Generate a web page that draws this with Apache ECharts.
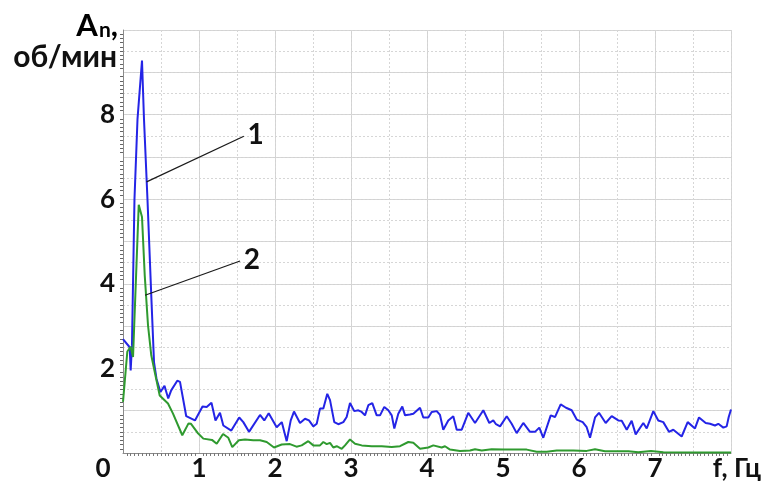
<!DOCTYPE html>
<html>
<head>
<meta charset="utf-8">
<script src="https://cdn.jsdelivr.net/npm/echarts@6/dist/echarts.min.js"></script>
<style>html,body{margin:0;padding:0;background:#fff}#c{width:769px;height:488px}</style>
</head>
<body>
<div id="c"></div>
<script>
// Curve 1 (blue): frequency, Hz and amplitude, об/мин
const freq1 = [0.000,0.088,0.101,0.118,0.151,0.191,0.250,0.276,0.322,0.372,0.408,0.441,0.493,0.546,0.595,0.634,0.714,0.750,0.832,0.947,
1.046,1.101,1.164,1.217,1.276,1.320,1.425,1.529,1.583,1.658,1.803,1.859,1.917,2.022,2.089,2.154,2.207,2.250,2.329,2.395,
2.447,2.504,2.549,2.592,2.636,2.688,2.724,2.780,2.833,2.899,2.943,2.987,3.043,3.096,3.141,3.184,3.228,3.280,3.338,3.382,
3.438,3.491,3.536,3.570,3.622,3.675,3.711,3.776,3.820,3.908,3.951,4.017,4.062,4.128,4.171,4.214,4.280,4.346,4.391,4.457,
4.543,4.632,4.741,4.820,4.872,4.908,4.961,5.049,5.114,5.180,5.267,5.355,5.421,5.478,5.530,5.628,5.684,5.759,5.829,5.904,
5.970,6.049,6.101,6.145,6.211,6.263,6.351,6.430,6.517,6.562,6.628,6.693,6.746,6.846,6.891,6.978,7.043,7.109,7.184,7.241,
7.351,7.430,7.526,7.579,7.667,7.724,7.789,7.833,7.899,7.943,7.970,8.000];
const amp1 = [2.69,2.50,1.95,2.55,6.00,7.90,9.28,7.90,6.00,3.72,2.15,1.75,1.44,1.59,1.29,1.48,1.71,1.68,0.87,0.77,
1.10,1.09,1.19,0.77,0.95,0.65,0.53,0.84,0.73,0.50,0.90,0.77,0.94,0.61,0.73,0.28,0.77,0.98,0.71,0.81,
0.77,0.63,0.69,1.05,1.05,1.40,1.25,0.73,0.68,0.73,0.85,1.18,0.99,1.01,0.97,0.89,1.13,1.18,0.89,0.89,
1.09,1.01,0.89,0.58,0.93,1.10,0.89,0.91,0.93,1.07,0.84,0.84,0.97,0.99,0.90,0.55,0.77,0.87,0.55,0.55,
0.95,0.71,1.01,0.71,0.77,0.68,0.63,0.87,0.69,0.47,0.71,0.50,0.50,0.60,0.36,0.89,0.85,1.15,1.07,1.01,
0.79,0.73,0.61,0.36,0.84,0.95,0.71,0.87,0.77,0.76,0.55,0.76,0.44,0.71,0.58,0.99,0.77,0.73,0.50,0.55,
0.39,0.73,0.58,0.84,0.71,0.69,0.65,0.69,0.60,0.63,0.85,1.03];

// Curve 2 (green)
const freq2 = [0.000,0.057,0.101,0.132,0.207,0.250,0.286,0.329,0.372,0.417,0.483,0.592,0.658,0.780,0.862,0.895,0.980,1.057,1.171,1.233,
1.316,1.386,1.438,1.524,1.605,1.714,1.803,1.891,1.987,2.088,2.197,2.283,2.351,2.438,2.504,2.592,2.636,2.680,2.724,2.767,
2.812,2.878,2.921,2.987,3.053,3.141,3.272,3.404,3.536,3.645,3.754,3.820,3.908,4.017,4.083,4.193,4.237,4.303,4.434,4.566,
4.632,4.720,4.851,5.004,5.180,5.312,5.443,5.575,5.707,5.925,6.101,6.211,6.342,6.517,6.649,6.780,6.947,7.109,7.590,8.000];
const amp2 = [1.21,2.40,2.51,2.27,5.87,5.58,4.20,3.02,2.31,1.92,1.36,1.17,0.93,0.42,0.70,0.69,0.48,0.34,0.31,0.22,
0.45,0.36,0.14,0.30,0.32,0.30,0.30,0.26,0.13,0.20,0.21,0.15,0.18,0.28,0.18,0.18,0.26,0.21,0.24,0.13,
0.16,0.10,0.18,0.32,0.22,0.18,0.16,0.16,0.14,0.16,0.26,0.24,0.10,0.13,0.18,0.13,0.16,0.08,0.05,0.06,
0.09,0.06,0.09,0.08,0.08,0.08,0.03,0.03,0.06,0.06,0.05,0.09,0.04,0.04,0.04,0.02,0.05,0.02,0.01,0.01];

// Leader lines for curve labels: [f, A] of start and end
const leader1 = [[0.31, 6.41], [1.59, 7.49]];
const leader2 = [[0.29, 3.73], [1.54, 4.54]];
const xLabels = ['0','1','2','3','4','5','6','7','f, Гц'];

const FONT = 'Lato, "Open Sans", sans-serif';
const zip = (a, b) => a.map((v, i) => [v, b[i]]);

const chart = echarts.init(document.getElementById('c'), null, {renderer: 'canvas'});
const axisLbl = {fontFamily: FONT, fontWeight: 'bold', fontSize: 26, color: '#111'};

function leader(coords, txt) {
  return {
    silent: true, symbol: 'none', animation: false,
    lineStyle: {color: '#1a1a1a', width: 1.2, type: 'solid'},
    label: {show: true, position: 'end', distance: 4, formatter: txt,
            fontFamily: FONT, fontWeight: 'bold', fontSize: 28, color: '#111'},
    data: [[{coord: coords[0]}, {coord: coords[1]}]]
  };
}

chart.setOption({
  animation: false,
  backgroundColor: '#fff',
  grid: {left: 123, right: 38, top: 30, bottom: 35, containLabel: false},
  xAxis: [{
    type: 'value', min: 0, max: 8, interval: 1,
    axisLine: {show: true, lineStyle: {color: '#8a8a8a', width: 1}},
    axisTick: {show: false},
    minorTick: {show: true, splitNumber: 20, length: 3, lineStyle: {color: '#777'}},
    splitLine: {show: true, lineStyle: {color: '#d2d2d2', width: 1}},
    axisLabel: Object.assign({}, axisLbl, {
      margin: 3,
      formatter: function (v) {
        const t = xLabels[Math.round(v)];
        if (v === 0) return '{z|' + t + '}';
        if (v === 8) return '{u|' + t + '}';
        return t;
      },
      rich: {
        z: Object.assign({}, axisLbl, {padding: [0, 40, 0, 0]}),
        u: Object.assign({}, axisLbl, {padding: [0, 0, 0, 12]})
      }
    })
  }, {
    type: 'value', min: 0, max: 8, interval: 0.5, position: 'bottom',
    axisLine: {show: false}, axisTick: {show: false}, axisLabel: {show: false},
    splitLine: {show: true, lineStyle: {color: '#d6d6d6', width: 1, type: [2, 2]}}
  }],
  yAxis: [{
    type: 'value', min: 0, max: 10, interval: 1,
    axisLine: {show: true, lineStyle: {color: '#8a8a8a', width: 1}},
    axisTick: {show: false},
    minorTick: {show: true, splitNumber: 10, length: 3, lineStyle: {color: '#666'}},
    splitLine: {show: true, lineStyle: {color: '#d2d2d2', width: 1}},
    axisLabel: Object.assign({}, axisLbl, {
      margin: 8,
      formatter: function (v) { return (v > 0 && v < 10 && v % 2 === 0) ? String(v) : ''; }
    })
  }, {
    type: 'value', min: 0, max: 10, interval: 0.5, position: 'left',
    axisLine: {show: false}, axisTick: {show: false}, axisLabel: {show: false},
    splitLine: {show: true, lineStyle: {color: '#d6d6d6', width: 1, type: [2, 2]}}
  }],
  graphic: [{
    type: 'text', right: 769 - 118, top: 10, z: 10,
    style: {
      text: '{a|A}{n|n}{a|,}',
      textAlign: 'right',
      rich: {
        a: {fontFamily: FONT, fontWeight: 'bold', fontSize: 31, color: '#111', verticalAlign: 'bottom'},
        n: {fontFamily: FONT, fontWeight: 'bold', fontSize: 21, color: '#111', verticalAlign: 'bottom', padding: [0, 0, 0, 1]}
      }
    }
  }, {
    type: 'text', right: 769 - 117, top: 42, z: 10,
    style: {text: 'об/мин', fontFamily: FONT, fontWeight: 'bold', fontSize: 30, fill: '#111'}
  }],
  series: [{
    type: 'line', name: '1', xAxisIndex: 0, yAxisIndex: 0,
    data: zip(freq1, amp1), showSymbol: false, symbol: 'none', smooth: false,
    lineStyle: {color: '#2424e6', width: 2}, z: 3,
    markLine: leader(leader1, '1')
  }, {
    type: 'line', name: '2', xAxisIndex: 0, yAxisIndex: 0,
    data: zip(freq2, amp2), showSymbol: false, symbol: 'none', smooth: false,
    lineStyle: {color: '#2f9a2f', width: 2}, z: 4,
    markLine: leader(leader2, '2')
  }]
});
</script>
</body>
</html>
